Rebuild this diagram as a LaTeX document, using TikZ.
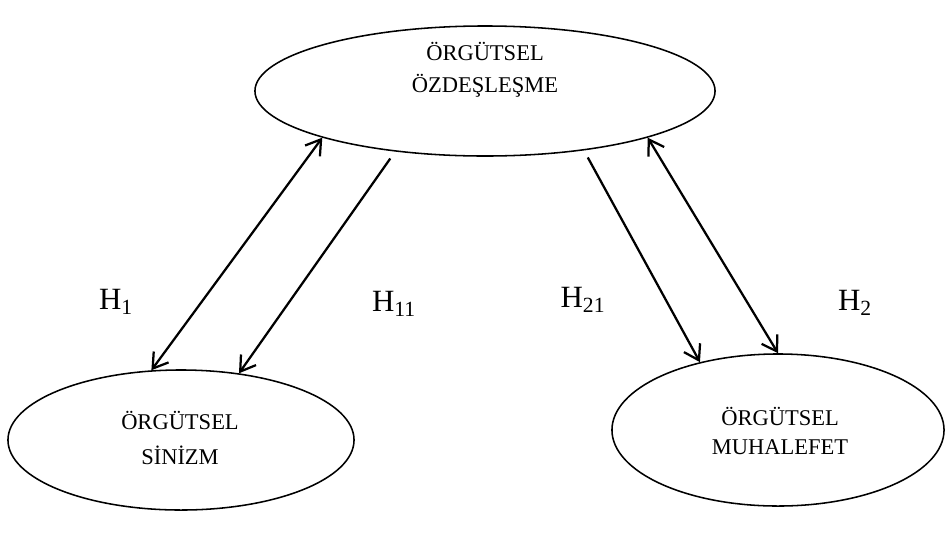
\documentclass[tikz,border=0pt]{standalone}
\usepackage{fontspec}
\setmainfont{Liberation Serif}
\usetikzlibrary{shapes.geometric,arrows.meta}

\begin{document}
\begin{tikzpicture}[x=0.025cm,y=-0.025cm,
  kavram/.style={ellipse,draw,line width=1.1pt,inner sep=0pt},
  yazi/.style={align=center,font=\fontsize{16}{#1}\selectfont},
  hip/.style={font=\fontsize{22}{26}\selectfont},
  ok/.style={line width=1.6pt,-{Straight Barb[length=3.6mm,width=4.6mm]}},
  ciftok/.style={line width=1.6pt,{Straight Barb[length=3.6mm,width=4.6mm]}-{Straight Barb[length=3.6mm,width=4.6mm]}}]
  \useasboundingbox (0,0) rectangle (946,541);

  % elipsler
  \node[kavram,minimum width=11.5cm,minimum height=3.25cm] (ozdes) at (485,91) {};
  \node[kavram,minimum width=8.65cm,minimum height=3.5cm] (sinizm) at (181,440) {};
  \node[kavram,minimum width=8.3cm,minimum height=3.8cm] (muhalefet) at (778,430) {};

  % elips yazilari
  \node[yazi=23pt] (ozdesyazi) at (485,70) {ÖRGÜTSEL\\ÖZDEŞLEŞME};
  \node[yazi=25pt] (sinizmyazi) at (180,438) {ÖRGÜTSEL\\SİNİZM};
  \node[yazi=20pt] (muhalefetyazi) at (780,431) {ÖRGÜTSEL\\MUHALEFET};

  % oklar
  \draw[ciftok] (ozdes.196.6) -- (sinizm.113.3);
  \draw[ok,shorten <=6pt] (ozdes.214.6) -- (sinizm.49.9);
  \draw[ok,shorten <=5.7pt] (ozdes.329.2) -- (muhalefet.139.1);
  \draw[ciftok] (ozdes.344) -- (muhalefet.90.8);

  % hipotezler
  \node[hip] (h1) at (116,302) {H\textsubscript{1}};
  \node[hip] (h11) at (394,304) {H\textsubscript{11}};
  \node[hip] (h21) at (583,300) {H\textsubscript{21}};
  \node[hip] (h2) at (855,303) {H\textsubscript{2}};
\end{tikzpicture}
\end{document}
